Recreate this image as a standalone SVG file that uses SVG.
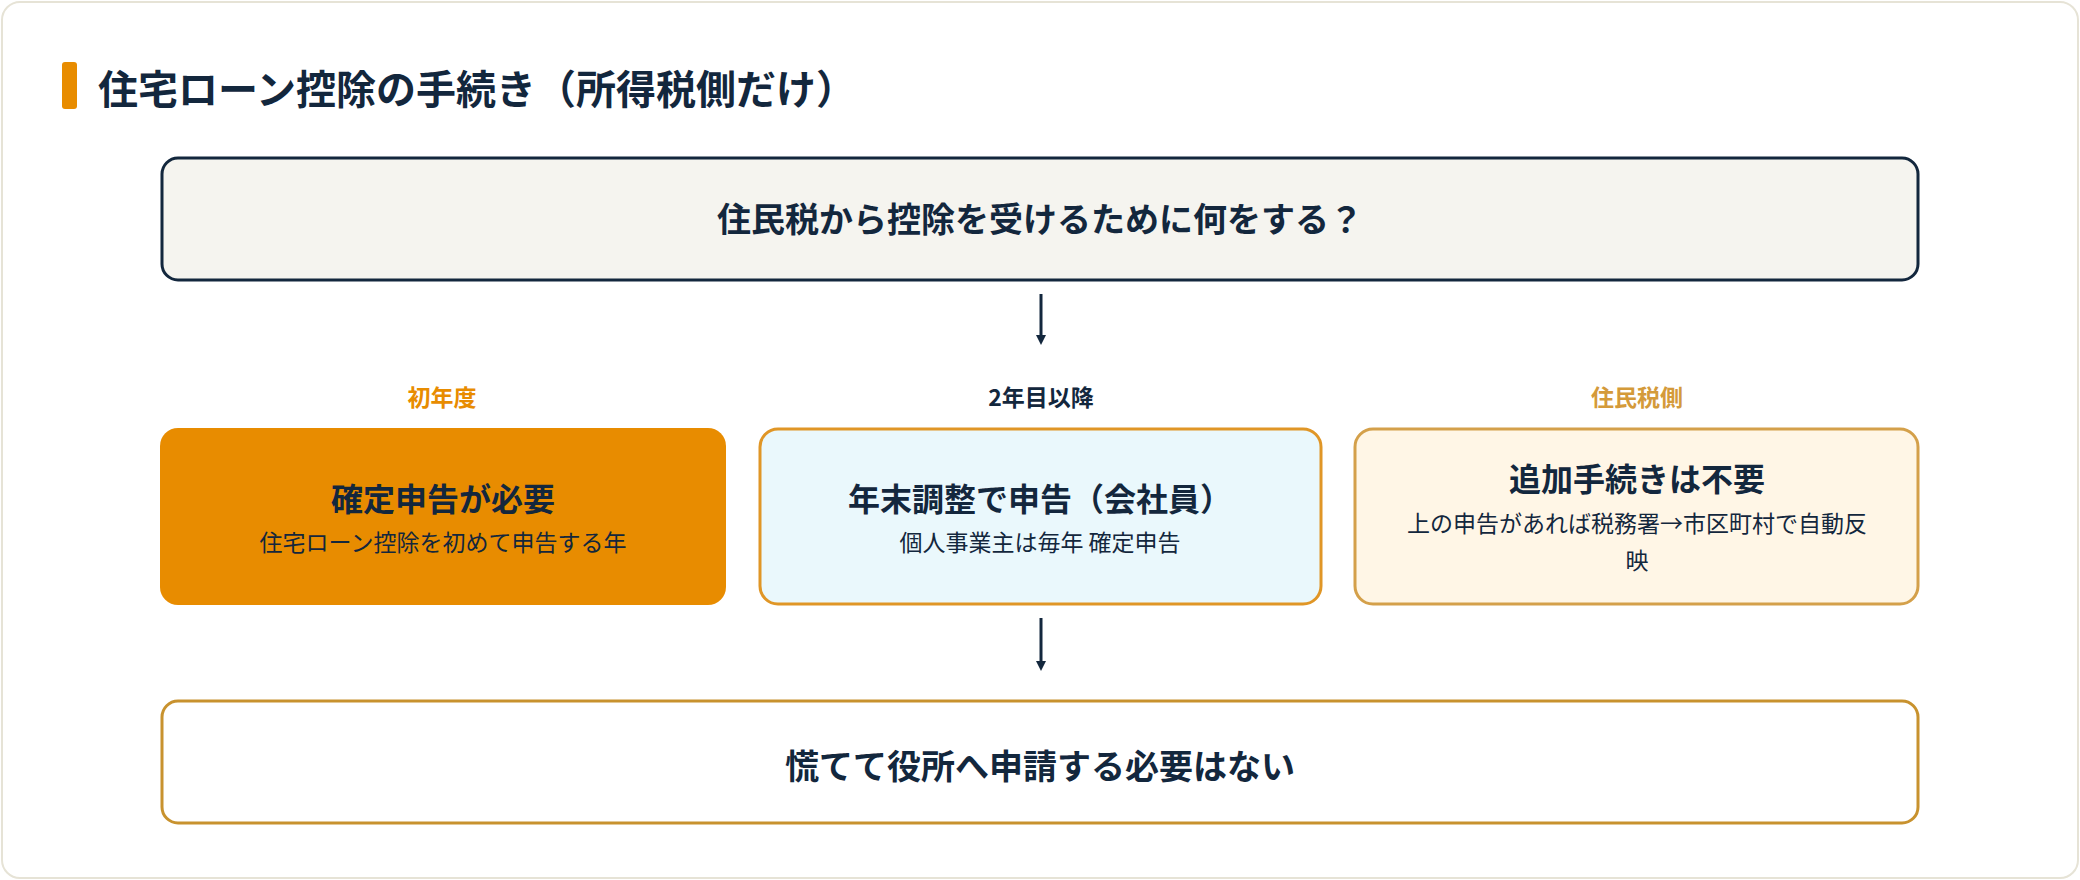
<svg xmlns="http://www.w3.org/2000/svg" width="2080" height="880" viewBox="0 0 2080 880">
<style>
text{font-family:"Noto Sans CJK JP","Noto Sans",sans-serif;text-anchor:middle;fill:#13273d}
.t{font-size:34px;font-weight:700}
.s{font-size:23px;font-weight:400}
.l{font-size:23px;font-weight:700}
</style>
<defs><marker id="ah" markerWidth="10" markerHeight="10" refX="5" refY="5" orient="auto" markerUnits="userSpaceOnUse" viewBox="0 0 10 10"><path d="M0,0L10,5L0,10z" fill="#13273d"/></marker></defs>
<rect x="2" y="2" width="2076" height="876" rx="18" fill="#fff" stroke="#e6e3d6" stroke-width="2"/>
<g id="title"><rect x="62" y="62" width="15" height="47" rx="3" fill="#e88c00"/>
<text x="98" y="104" style="text-anchor:start;font-size:40px;font-weight:700">住宅ローン控除の手続き（所得税側だけ）</text></g>
<g id="q"><rect x="162" y="158" width="1756" height="122" rx="16" fill="#f5f4ef" stroke="#13273d" stroke-width="3"/>
<text class="t" x="1040" y="232">住民税から控除を受けるために何をする？</text></g>
<g id="lab1"><text class="l" x="442" y="406" style="fill:#e88c00">初年度</text></g>
<g id="lab2"><text class="l" x="1041" y="406">2年目以降</text></g>
<g id="lab3"><text class="l" x="1637" y="406" style="fill:#d49a3a">住民税側</text></g>
<g id="b1"><rect x="160" y="428" width="566" height="177" rx="18" fill="#e88c00"/>
<text class="t" x="443" y="511" style="font-size:32px">確定申告が必要</text>
<text class="s" x="443" y="551">住宅ローン控除を初めて申告する年</text></g>
<g id="b2"><rect x="760" y="429" width="561" height="175" rx="18" fill="#eaf8fc" stroke="#e09626" stroke-width="3"/>
<text class="t" x="1040" y="511" style="font-size:32px">年末調整で申告（会社員）</text>
<text class="s" x="1040" y="551">個人事業主は毎年 確定申告</text></g>
<g id="b3"><rect x="1355" y="429" width="563" height="175" rx="18" fill="#fff6e6" stroke="#d4a04a" stroke-width="3"/>
<text class="t" x="1637" y="491" style="font-size:32px">追加手続きは不要</text>
<text class="s" x="1637" y="532">上の申告があれば税務署→市区町村で自動反</text>
<text class="s" x="1637" y="569">映</text></g>
<g id="end"><rect x="162" y="701" width="1756" height="122" rx="16" fill="#fff" stroke="#c8922e" stroke-width="3"/>
<text class="t" x="1040" y="779">慌てて役所へ申請する必要はない</text></g>
<g id="connectors" stroke="#13273d" stroke-width="3">
<line x1="1041" y1="294" x2="1041" y2="340" marker-end="url(#ah)"/>
<line x1="1041" y1="618" x2="1041" y2="666" marker-end="url(#ah)"/>
</g>
</svg>
